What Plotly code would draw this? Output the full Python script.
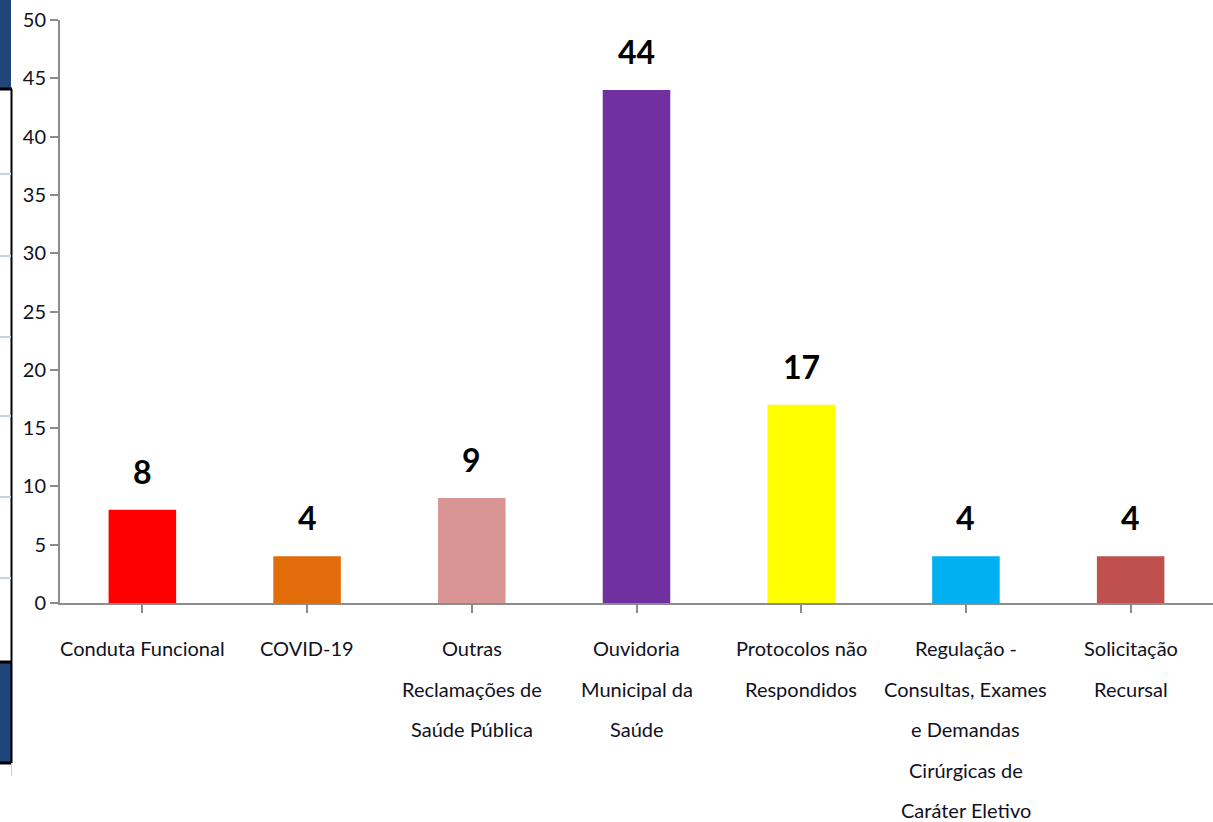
import plotly.graph_objects as go

categories = [
    "Conduta Funcional",
    "COVID-19",
    "Outras<br>Reclamações de<br>Saúde Pública",
    "Ouvidoria<br>Municipal da<br>Saúde",
    "Protocolos não<br>Respondidos",
    "Regulação -<br>Consultas, Exames<br>e Demandas<br>Cirúrgicas de<br>Caráter Eletivo",
    "Solicitação<br>Recursal",
]
values = [8, 4, 9, 44, 17, 4, 4]
colors = ["#FF0000", "#E36C0A", "#D99594", "#7030A0", "#FFFF00", "#00B0F0", "#C0504D"]

FONT = "Lato, Carlito, sans-serif"

fig = go.Figure(go.Bar(
    x=list(range(len(categories))),
    y=values,
    marker=dict(color=colors, line=dict(width=0)),
    width=0.41,
    hoverinfo="skip",
))

annotations = []
# value labels above the bars
for i, v in enumerate(values):
    annotations.append(dict(
        x=i, y=v, xref="x", yref="y", text=str(v), showarrow=False,
        yanchor="bottom", yshift=17,
        font=dict(family=FONT, size=32, color="#000000", weight="bold"),
    ))
# category labels, one line at a time for the wide line spacing
for i, lab in enumerate(categories):
    for j, line in enumerate(lab.split("<br>")):
        annotations.append(dict(
            x=i, y=0, xref="x", yref="paper", text=line, showarrow=False,
            yanchor="middle", yshift=-45 - 40.5 * j,
            font=dict(family=FONT, size=20, color="#111122"),
        ))

# left-edge remnants of the slide behind the chart
W, H, L, B = 1153, 583, 60, 603
def px(x):
    return (x - L) / W
def py(y):
    return (B - y) / H

shapes = [
    dict(type="rect", xref="paper", yref="paper", x0=px(0), x1=px(11), y0=py(88), y1=py(0),
         fillcolor="#1F457A", line=dict(width=0), layer="below"),
    dict(type="rect", xref="paper", yref="paper", x0=px(0), x1=px(11), y0=py(762), y1=py(662),
         fillcolor="#1F457A", line=dict(width=0), layer="below"),
    dict(type="line", xref="paper", yref="paper", x0=px(0), x1=px(12), y0=py(89), y1=py(89),
         line=dict(color="#000000", width=3)),
    dict(type="line", xref="paper", yref="paper", x0=px(0), x1=px(12), y0=py(662), y1=py(662),
         line=dict(color="#000000", width=3)),
    dict(type="line", xref="paper", yref="paper", x0=px(0), x1=px(12), y0=py(763), y1=py(763),
         line=dict(color="#000000", width=3)),
    dict(type="line", xref="paper", yref="paper", x0=px(11.5), x1=px(11.5), y0=py(89), y1=py(763),
         line=dict(color="#000000", width=2)),
    dict(type="line", xref="paper", yref="paper", x0=px(11.5), x1=px(11.5), y0=py(763), y1=py(776),
         line=dict(color="#C8D0DC", width=1)),
]
for gy in [174, 256, 337, 416, 497, 578]:
    shapes.append(dict(type="line", xref="paper", yref="paper", x0=px(0), x1=px(11), y0=py(gy), y1=py(gy),
                       line=dict(color="#C8D3E0", width=2)))

fig.update_layout(
    width=1213, height=822,
    margin=dict(l=L, r=0, t=20, b=219, autoexpand=False),
    paper_bgcolor="white", plot_bgcolor="white",
    showlegend=False,
    annotations=annotations,
    shapes=shapes,
    xaxis=dict(
        tickmode="array", tickvals=list(range(len(categories))), ticktext=[""] * len(categories),
        range=[-0.5, len(categories) - 0.5], automargin=False,
        showline=True, linecolor="#8C8C8C", linewidth=2,
        ticks="outside", tickson="boundaries", ticklen=8, tickcolor="#8C8C8C", tickwidth=2,
        showgrid=False, zeroline=False,
    ),
    yaxis=dict(
        range=[0, 50], dtick=5, automargin=False,
        showline=True, linecolor="#8C8C8C", linewidth=2,
        ticks="outside", ticklen=8, tickcolor="#8C8C8C", tickwidth=2,
        showgrid=False, zeroline=False,
        tickfont=dict(family=FONT, size=20, color="#111122"),
    ),
    font=dict(family=FONT),
)

fig.write_html(
    "out.html",
    config={"displayModeBar": False},
    post_script="document.body.style.margin='0';document.body.style.overflow='hidden';",
)
